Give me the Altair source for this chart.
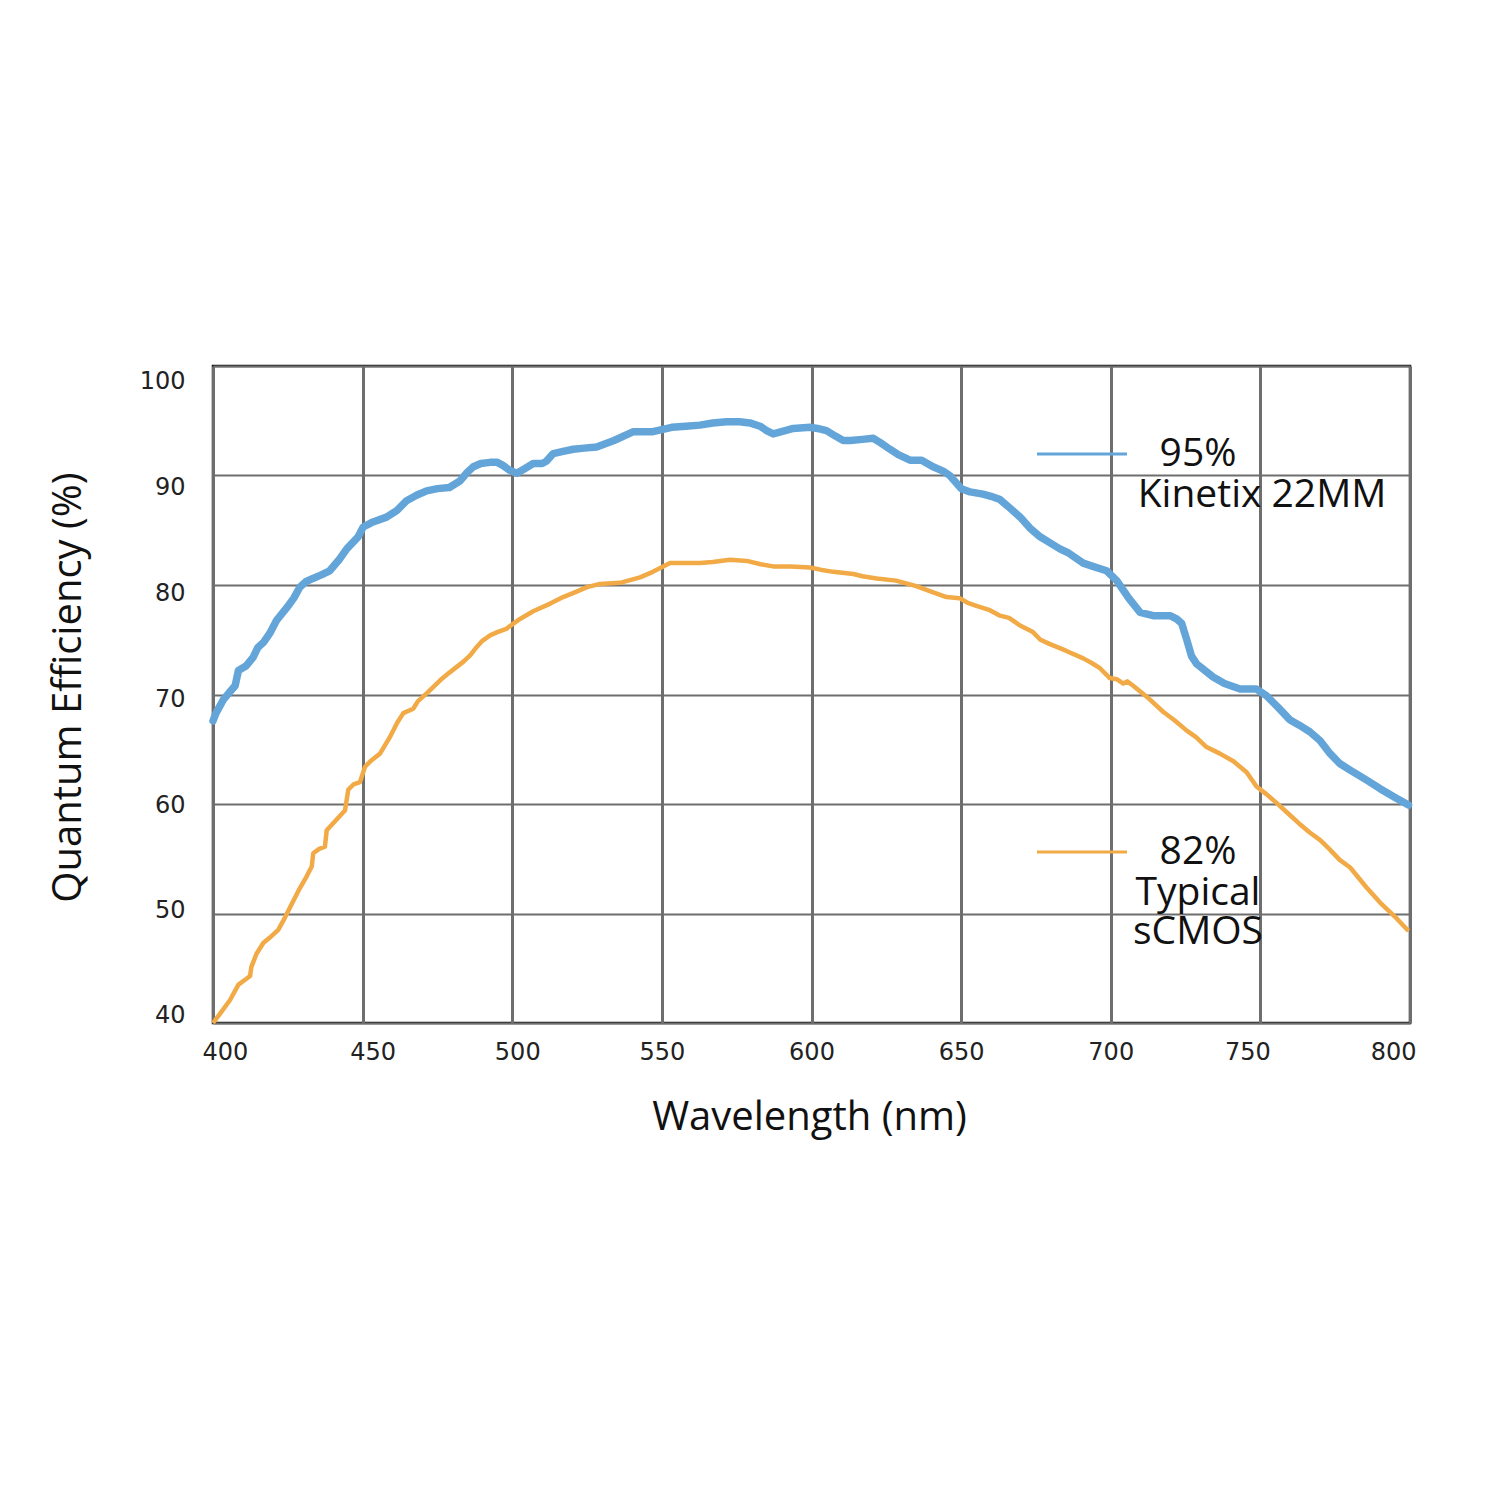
import altair as alt
import pandas as pd

# Kinetix 22MM (blue)
kin_wl = [400, 401, 403.4, 405.5, 407.4, 408.5, 411, 413.4, 415, 417, 419, 421.3, 424.6, 427, 429, 431, 433.4,
          436, 439, 442.4, 444.7, 448.5, 450.2, 453, 458, 461.4, 464.7, 468, 471.4, 475, 479, 482.5, 485, 487,
          489.5, 492.6, 495, 497, 499, 501.5, 504, 507, 510, 511.4, 513.7, 517, 520.4, 524, 528.2, 534, 540.5,
          547, 553.3, 558, 562.7, 567, 571.6, 576, 579.4, 582.8, 585, 587.2, 590, 593.9, 599.5, 602, 605, 608,
          610.6, 613, 617, 620.6, 623, 626.2, 629, 632.9, 636.8, 640.6, 644, 646.2, 650.1, 653, 657.3, 660, 663,
          666, 669.7, 673, 676.4, 680, 683, 686, 690.8, 694, 698.6, 702, 706, 709.8, 714.2, 719.8, 722, 723.7,
          725.4, 727, 728.7, 734.2, 738, 743.2, 748.7, 752, 756, 759.8, 763, 766.5, 769.9, 773, 776.5, 780,
          785.4, 790, 795, 799.5]
kin_qe = [67.6, 68.3, 69.5, 70.2, 70.8, 72.2, 72.6, 73.4, 74.3, 74.8, 75.6, 76.8, 77.9, 78.8, 79.8, 80.3, 80.6,
          80.9, 81.3, 82.4, 83.3, 84.4, 85.3, 85.7, 86.2, 86.8, 87.7, 88.2, 88.6, 88.8, 88.9, 89.5, 90.3, 90.8,
          91.1, 91.2, 91.2, 90.9, 90.5, 90.2, 90.6, 91.1, 91.1, 91.3, 92.0, 92.2, 92.4, 92.5, 92.6, 93.2, 94.0,
          94.0, 94.4, 94.5, 94.6, 94.8, 94.9, 94.9, 94.8, 94.5, 94.1, 93.8, 94.0, 94.3, 94.4, 94.3, 94.1, 93.6,
          93.2, 93.2, 93.3, 93.4, 93.0, 92.4, 91.9, 91.4, 91.4, 90.8, 90.4, 90.0, 88.8, 88.5, 88.3, 88.1, 87.8,
          87.1, 86.2, 85.2, 84.4, 83.8, 83.3, 82.9, 82.0, 81.7, 81.3, 80.4, 78.8, 77.5, 77.2, 77.2, 76.9, 76.5,
          75.0, 73.5, 72.8, 71.6, 71.0, 70.5, 70.5, 69.9, 68.8, 67.7, 67.2, 66.6, 65.8, 64.7, 63.7, 63.1,
          62.2, 61.4, 60.6, 59.9]

# Typical sCMOS (orange)
typ_wl = [400, 402.5, 405.7, 408.5, 410.5, 412.4, 412.8, 414.5, 416.8, 419, 421.8, 424, 425.8, 429, 431.3, 433,
          433.5, 435.5, 437.4, 438, 441, 444.1, 445.2, 447, 449.1, 450.8, 453, 455.8, 459.1, 461.5, 463.6, 466.9,
          468.5, 471.4, 475.9, 479, 483.7, 486, 488, 490, 492.6, 495, 498, 502.6, 507, 512.7, 517, 521.5, 525,
          529.3, 536, 542.7, 547, 552.7, 557, 562.7, 567, 572.8, 578.4, 583, 587.2, 593, 599.5, 603, 607.3, 614,
          617, 621.8, 628.3, 631, 635, 640, 645.1, 649.5, 652, 655.1, 659.6, 663, 666, 669.7, 674, 676.5, 679.7,
          685, 690.8, 693.5, 696.4, 699.7, 702, 704.2, 705.5, 707.5, 712, 717.6, 721.5, 725.4, 728.5, 732, 736.5,
          741, 745.4, 748.7, 752, 755.4, 759, 763, 766.5, 770, 773, 776.5, 780, 785.4, 790, 795, 799.5]
typ_qe = [40.0, 40.9, 42.1, 43.5, 43.9, 44.3, 45.1, 46.3, 47.3, 47.8, 48.5, 49.6, 50.6, 52.3, 53.4, 54.3,
          55.5, 55.9, 56.1, 57.6, 58.5, 59.4, 61.3, 61.8, 62.0, 63.4, 64.0, 64.6, 66.1, 67.4, 68.3, 68.7,
          69.4, 70.1, 71.3, 72.0, 73.0, 73.6, 74.3, 74.9, 75.4, 75.7, 76.0, 76.9, 77.6, 78.3, 78.9, 79.4, 79.8,
          80.1, 80.2, 80.7, 81.2, 82.0, 82.0, 82.0, 82.1, 82.3, 82.2, 81.9, 81.7, 81.7, 81.6, 81.4, 81.2, 81.0,
          80.8, 80.6, 80.4, 80.2, 79.9, 79.4, 78.9, 78.8, 78.4, 78.1, 77.7, 77.2, 77.0, 76.3, 75.7, 75.0, 74.6,
          74.0, 73.3, 72.9, 72.4, 71.5, 71.4, 71.0, 71.2, 70.8, 69.8, 68.4, 67.6, 66.7, 66.1, 65.2, 64.6,
          63.9, 62.9, 61.6, 60.9, 60.1, 59.2, 58.2, 57.4, 56.7, 55.9, 54.9, 54.2, 52.4, 51.0, 49.7, 48.4]

x_ticks = [400, 450, 500, 550, 600, 650, 700, 750, 800]
y_ticks = [40, 50, 60, 70, 80, 90, 100]

BLUE = "#64a5d9"
ORANGE = "#f1aa45"
FONT = "Open Sans"

kin = pd.DataFrame({"wl": kin_wl, "qe": kin_qe})
typ = pd.DataFrame({"wl": typ_wl, "qe": typ_qe})

xs = alt.Scale(domain=[400, 800], nice=False, zero=False)
ys = alt.Scale(domain=[40, 100], nice=False, zero=False)

x_axis = alt.Axis(values=x_ticks, title="Wavelength (nm)", grid=True, gridColor="#6e6e6e", gridWidth=3,
                  domain=False, ticks=False, labelPadding=29, labelBaseline="middle",
                  labelFlush=True, labelFlushOffset=11,
                  labelOffset={"condition": {"test": "datum.value == 450", "value": 10},
                               "expr": "datum.value == 500 ? 5 : (datum.value == 750 ? -13 : (datum.value == 800 ? -5 : 0))"},
                  labelFont="DejaVu Sans", labelFontSize=24, labelColor="#222",
                  titleFont=FONT, titleFontSize=40, titleFontWeight="normal", titleColor="#111",
                  titleY=94, titleX=596, titleBaseline="middle")
y_axis = alt.Axis(values=y_ticks, title="Quantum Efficiency (%)", grid=True, gridColor="#6e6e6e", gridWidth=2,
                  domain=False, ticks=False, labelPadding=28,
                  labelOffset={"condition": {"test": "datum.value >= 60", "expr": "(datum.value - 60) * 0.37 + 1"},
                               "expr": "(datum.value - 60) * 0.45 + 1"},
                  labelFont="DejaVu Sans", labelFontSize=24, labelColor="#222",
                  titleFont=FONT, titleFontSize=40, titleFontWeight="normal", titleColor="#111",
                  titleX=-145, titleY=321, titleBaseline="middle")

blue_line = alt.Chart(kin).mark_line(color=BLUE, strokeWidth=7.5, strokeJoin="round", strokeCap="round").encode(
    x=alt.X("wl:Q", scale=xs, axis=x_axis),
    y=alt.Y("qe:Q", scale=ys, axis=y_axis),
)
orange_line = alt.Chart(typ).mark_line(color=ORANGE, strokeWidth=4.5, strokeJoin="round").encode(
    x=alt.X("wl:Q", scale=xs),
    y=alt.Y("qe:Q", scale=ys),
)

def rule(color, x1, x2, y):
    return alt.Chart(pd.DataFrame({"a": [0]})).mark_rule(color=color, strokeWidth=3).encode(
        x=alt.value(x1), x2=alt.value(x2), y=alt.value(y))

def label(text, x, y):
    return alt.Chart(pd.DataFrame({"a": [0]})).mark_text(
        font=FONT, fontSize=39, color="#111", align="center", baseline="middle").encode(
        x=alt.value(x), y=alt.value(y), text=alt.value(text))

legend = [
    rule(BLUE, 824, 914, 88),
    label("95%", 985, 88),
    label("Kinetix 22MM", 1049, 129),
    rule(ORANGE, 824, 914, 486),
    label("82%", 985, 486),
    label("Typical", 985, 527),
    label("sCMOS", 985, 566),
]

chart = alt.layer(blue_line, orange_line, *legend).properties(
    width=1197, height=657,
    padding={"left": 205, "top": 358, "right": 92, "bottom": 470},
    autosize=alt.AutoSizeParams(type="none"),
    background="white",
).configure_view(stroke="#111", strokeWidth=2.5)

chart.save("out.html", embed_options={"renderer": "svg", "actions": False})
